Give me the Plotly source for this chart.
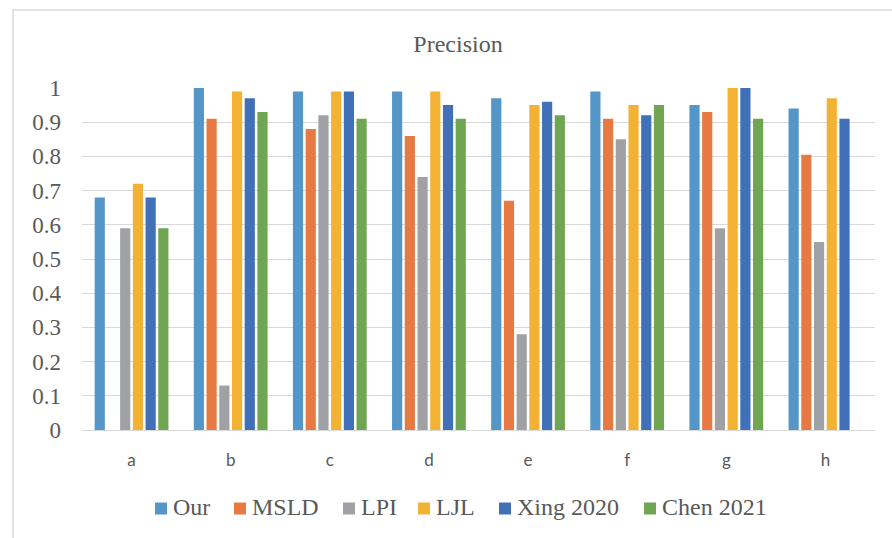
import plotly.graph_objects as go

# Precision scores per scene for each method
categories = ["a", "b", "c", "d", "e", "f", "g", "h"]
our = [0.68, 1.00, 0.99, 0.99, 0.97, 0.99, 0.95, 0.94]
msld = [None, 0.91, 0.88, 0.86, 0.67, 0.91, 0.93, 0.805]
lpi = [0.59, 0.13, 0.92, 0.74, 0.28, 0.85, 0.59, 0.55]
ljl = [0.72, 0.99, 0.99, 0.99, 0.95, 0.95, 1.00, 0.97]
xing2020 = [0.68, 0.97, 0.99, 0.95, 0.96, 0.92, 1.00, 0.91]
chen2021 = [0.59, 0.93, 0.91, 0.91, 0.92, 0.95, 0.91, None]

series = [
    ("Our", our, "#5596C8"),
    ("MSLD", msld, "#E67A42"),
    ("LPI", lpi, "#A0A1A5"),
    ("LJL", ljl, "#F4B235"),
    ("Xing 2020", xing2020, "#3F70B8"),
    ("Chen 2021", chen2021, "#70A651"),
]

W, H = 892, 538
PL, PR, PT, PB = 82, 875, 88, 430  # plot-area edges in pixels


def px(x):
    return (x - PL) / (PR - PL)


def py(y):
    return (PB - y) / (PB - PT)


fig = go.Figure()
for name, vals, color in series:
    fig.add_trace(go.Bar(
        x=categories, y=vals, name=name,
        marker=dict(color=color, line=dict(width=0)),
    ))

serif = "Liberation Serif, Times New Roman, serif"
grid = "#D9D9D9"
text_col = "#595959"

fig.update_layout(
    width=W, height=H,
    margin=dict(l=PL, r=W - PR, t=PT, b=H - PB),
    paper_bgcolor="white", plot_bgcolor="white",
    barmode="group", bargap=0.23, bargroupgap=0.2,
    title=dict(text="Precision", x=458 / W, xanchor="center", y=1 - 44 / H, yanchor="middle",
               font=dict(family=serif, size=24, color=text_col)),
    showlegend=False,
)

fig.update_yaxes(
    range=[0, 1.0], dtick=0.1, tickformat="~g",
    showgrid=True, gridcolor=grid, gridwidth=1,
    zeroline=True, zerolinecolor=grid, zerolinewidth=1,
    showline=False, ticks="", ticklabelstandoff=20,
    tickfont=dict(family=serif, size=23, color=text_col),
)
fig.update_xaxes(
    showgrid=False, showline=False, ticks="", ticklabelstandoff=18,
    tickfont=dict(family="Lato, Open Sans, sans-serif", size=17, color=text_col),
)

# Legend row beneath the plot: a colour swatch followed by the series name
legend_x = [155, 234, 343, 418, 499, 644]
swatch = 12
legend_y = 508.5
for (name, _, color), x0 in zip(series, legend_x):
    fig.add_shape(type="rect", xref="paper", yref="paper",
                  x0=px(x0), x1=px(x0 + swatch),
                  y0=py(legend_y + swatch / 2), y1=py(legend_y - swatch / 2),
                  line=dict(width=0), fillcolor=color)
    fig.add_annotation(text=name, xref="paper", yref="paper",
                       x=px(x0 + swatch + 4), y=py(legend_y - 1.5),
                       xanchor="left", yanchor="middle", showarrow=False,
                       font=dict(family=serif, size=24, color=text_col))

# Light chart-area border
fig.add_shape(type="rect", xref="paper", yref="paper",
              x0=px(13), x1=px(W + 20), y0=py(H + 20), y1=py(10),
              line=dict(color="#D9D9D9", width=1.5), fillcolor="rgba(0,0,0,0)", layer="below")

fig.write_html("out.html")
